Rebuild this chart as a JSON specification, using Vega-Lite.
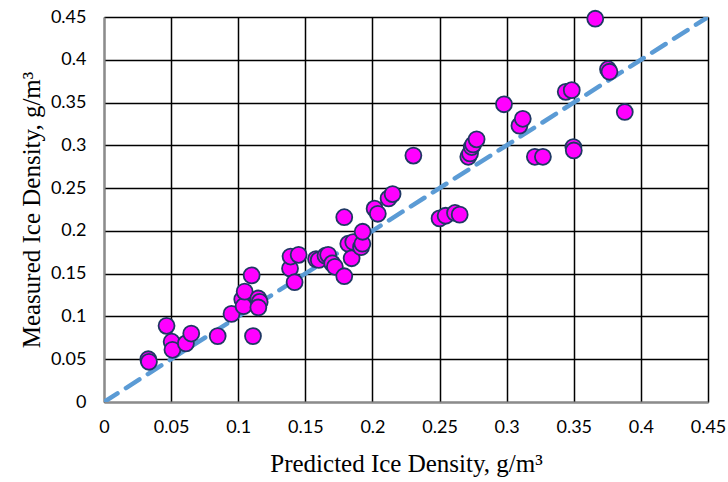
{
  "$schema": "https://vega.github.io/schema/vega-lite/v6.json",
  "width": 604,
  "height": 385,
  "autosize": "none",
  "padding": {"left": 104, "top": 17, "right": 20, "bottom": 80},
  "background": "white",
  "config": {"view": {"stroke": null}},
  "datasets": {
    "points": [
      {"pred": 0.033, "meas": 0.050},
      {"pred": 0.0335, "meas": 0.047},
      {"pred": 0.0466, "meas": 0.089},
      {"pred": 0.0504, "meas": 0.0705},
      {"pred": 0.051, "meas": 0.061},
      {"pred": 0.061, "meas": 0.0685},
      {"pred": 0.065, "meas": 0.080},
      {"pred": 0.0847, "meas": 0.077},
      {"pred": 0.095, "meas": 0.103},
      {"pred": 0.103, "meas": 0.120},
      {"pred": 0.104, "meas": 0.112},
      {"pred": 0.1048, "meas": 0.129},
      {"pred": 0.110, "meas": 0.148},
      {"pred": 0.111, "meas": 0.077},
      {"pred": 0.115, "meas": 0.121},
      {"pred": 0.116, "meas": 0.117},
      {"pred": 0.115, "meas": 0.1105},
      {"pred": 0.1386, "meas": 0.156},
      {"pred": 0.139, "meas": 0.170},
      {"pred": 0.142, "meas": 0.140},
      {"pred": 0.145, "meas": 0.172},
      {"pred": 0.158, "meas": 0.167},
      {"pred": 0.160, "meas": 0.166},
      {"pred": 0.165, "meas": 0.171},
      {"pred": 0.167, "meas": 0.172},
      {"pred": 0.170, "meas": 0.162},
      {"pred": 0.172, "meas": 0.158},
      {"pred": 0.179, "meas": 0.147},
      {"pred": 0.179, "meas": 0.216},
      {"pred": 0.182, "meas": 0.185},
      {"pred": 0.1845, "meas": 0.168},
      {"pred": 0.1857, "meas": 0.187},
      {"pred": 0.1915, "meas": 0.181},
      {"pred": 0.1925, "meas": 0.185},
      {"pred": 0.1927, "meas": 0.199},
      {"pred": 0.2016, "meas": 0.226},
      {"pred": 0.204, "meas": 0.220},
      {"pred": 0.212, "meas": 0.238},
      {"pred": 0.215, "meas": 0.243},
      {"pred": 0.2305, "meas": 0.288},
      {"pred": 0.250, "meas": 0.2146},
      {"pred": 0.2545, "meas": 0.2177},
      {"pred": 0.2615, "meas": 0.221},
      {"pred": 0.265, "meas": 0.219},
      {"pred": 0.2714, "meas": 0.2866},
      {"pred": 0.2727, "meas": 0.2905},
      {"pred": 0.274, "meas": 0.298},
      {"pred": 0.275, "meas": 0.301},
      {"pred": 0.2776, "meas": 0.307},
      {"pred": 0.298, "meas": 0.348},
      {"pred": 0.3095, "meas": 0.323},
      {"pred": 0.312, "meas": 0.331},
      {"pred": 0.321, "meas": 0.2866},
      {"pred": 0.327, "meas": 0.2866},
      {"pred": 0.344, "meas": 0.3625},
      {"pred": 0.3485, "meas": 0.3645},
      {"pred": 0.3497, "meas": 0.298},
      {"pred": 0.350, "meas": 0.294},
      {"pred": 0.366, "meas": 0.448},
      {"pred": 0.3755, "meas": 0.389},
      {"pred": 0.3766, "meas": 0.386},
      {"pred": 0.388, "meas": 0.339}
    ],
    "line": [
      {"pred": 0, "meas": 0},
      {"pred": 0.45, "meas": 0.45}
    ]
  },
  "encoding": {
    "x": {
      "field": "pred", "type": "quantitative",
      "scale": {"domain": [0, 0.45], "nice": false, "zero": true},
      "axis": {
        "title": "Predicted Ice Density, g/m³",
        "values": [0, 0.05, 0.1, 0.15, 0.2, 0.25, 0.3, 0.35, 0.4, 0.45],
        "format": "~g",
        "grid": true, "gridColor": "#000000", "gridWidth": 1.5,
        "domainColor": "#8c8c8c", "domainWidth": 2,
        "ticks": false,
        "labelFont": "Lato", "labelFontSize": 18, "labelColor": "#000000",
        "labelPadding": 16, "labelFlush": false,
        "titleFont": "Liberation Serif", "titleFontSize": 25, "titleFontWeight": "normal",
        "titleColor": "#000000", "titlePadding": 15
      }
    },
    "y": {
      "field": "meas", "type": "quantitative",
      "scale": {"domain": [0, 0.45], "nice": false, "zero": true},
      "axis": {
        "title": "Measured Ice Density, g/m³",
        "values": [0, 0.05, 0.1, 0.15, 0.2, 0.25, 0.3, 0.35, 0.4, 0.45],
        "format": "~g",
        "grid": true, "gridColor": "#000000", "gridWidth": 1.5,
        "domainColor": "#8c8c8c", "domainWidth": 2,
        "ticks": false,
        "labelFont": "Lato", "labelFontSize": 18, "labelColor": "#000000",
        "labelPadding": 18, "labelFlush": false,
        "titleFont": "Liberation Serif", "titleFontSize": 25, "titleFontWeight": "normal",
        "titleColor": "#000000", "titlePadding": 6
      }
    }
  },
  "layer": [
    {
      "data": {"name": "line"},
      "mark": {"type": "line", "color": "#5b9bd5", "strokeWidth": 4.5, "strokeDash": [16, 10], "strokeCap": "round", "clip": true}
    },
    {
      "data": {"name": "points"},
      "mark": {"type": "point", "shape": "circle", "filled": true, "fill": "#ff00ff", "stroke": "#1f3864", "strokeWidth": 1.8, "opacity": 1, "size": 255, "clip": false}
    }
  ]
}
